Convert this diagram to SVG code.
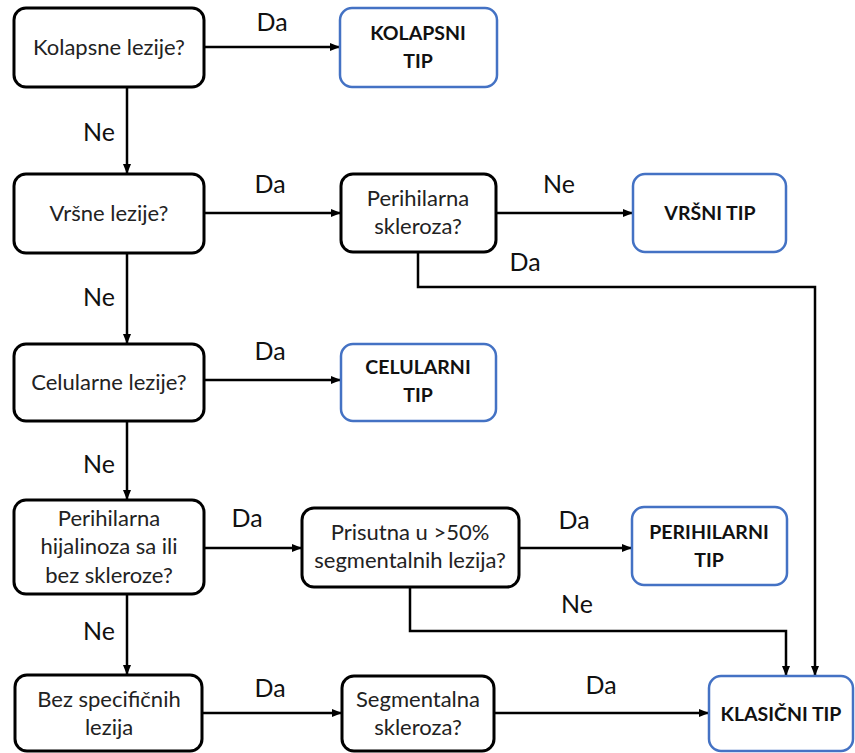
<svg xmlns="http://www.w3.org/2000/svg" width="855" height="753" viewBox="0 0 855 753">
<defs>
<marker id="ah" viewBox="0 0 10 10" refX="10" refY="5" markerWidth="10" markerHeight="10" markerUnits="userSpaceOnUse" orient="auto">
<path d="M0,1 L10,5 L0,9 Z" fill="#000"/>
</marker>
</defs>
<style>
.q{fill:#fff;stroke:#000;stroke-width:3}
.r{fill:#fff;stroke:#4472C4;stroke-width:2.5}
.t{font-family:Lato,"Liberation Sans",sans-serif;font-size:22px;fill:#222;text-anchor:middle}
.b{font-family:Lato,"Liberation Sans",sans-serif;font-size:19.5px;font-weight:bold;fill:#111;text-anchor:middle}
.l{font-family:Lato,"Liberation Sans",sans-serif;font-size:25px;fill:#111;text-anchor:middle}
.c{fill:none;stroke:#000;stroke-width:2.5}
</style>
<g id="connectors">
<path class="c" d="M204,47 H340" marker-end="url(#ah)"/>
<path class="c" d="M127,87 V174" marker-end="url(#ah)"/>
<path class="c" d="M204,213 H341" marker-end="url(#ah)"/>
<path class="c" d="M496,213 H633" marker-end="url(#ah)"/>
<path class="c" d="M418,252 V287 H815 V676" marker-end="url(#ah)"/>
<path class="c" d="M127,253 V344" marker-end="url(#ah)"/>
<path class="c" d="M204,380 H341" marker-end="url(#ah)"/>
<path class="c" d="M127,421 V500" marker-end="url(#ah)"/>
<path class="c" d="M204,548 H302" marker-end="url(#ah)"/>
<path class="c" d="M519,548 H632" marker-end="url(#ah)"/>
<path class="c" d="M410,587 V631 H786 V676" marker-end="url(#ah)"/>
<path class="c" d="M127,594 V675" marker-end="url(#ah)"/>
<path class="c" d="M202,713 H342" marker-end="url(#ah)"/>
<path class="c" d="M494,713 H709" marker-end="url(#ah)"/>
</g>
<g id="labels">
<text class="l" x="272" y="31">Da</text>
<text class="l" x="99" y="141">Ne</text>
<text class="l" x="270" y="193">Da</text>
<text class="l" x="559" y="193">Ne</text>
<text class="l" x="525" y="271">Da</text>
<text class="l" x="99" y="306">Ne</text>
<text class="l" x="270" y="360">Da</text>
<text class="l" x="99" y="473">Ne</text>
<text class="l" x="247" y="527">Da</text>
<text class="l" x="574" y="529">Da</text>
<text class="l" x="577" y="613">Ne</text>
<text class="l" x="99" y="640">Ne</text>
<text class="l" x="270" y="697">Da</text>
<text class="l" x="601" y="694">Da</text>
</g>
<g id="n1"><rect class="q" x="14" y="8" width="190" height="79" rx="12"/><text class="t" x="109" y="55">Kolapsne lezije?</text></g>
<g id="n2"><rect class="r" x="340" y="8" width="157" height="79" rx="12"/><text class="b" x="418" y="40">KOLAPSNI</text><text class="b" x="418" y="68">TIP</text></g>
<g id="n3"><rect class="q" x="14" y="174" width="190" height="79" rx="12"/><text class="t" x="109" y="221">Vršne lezije?</text></g>
<g id="n4"><rect class="q" x="341" y="174" width="155" height="78" rx="12"/><text class="t" x="418" y="206">Perihilarna</text><text class="t" x="418" y="234">skleroza?</text></g>
<g id="n5"><rect class="r" x="633" y="174" width="153" height="78" rx="12"/><text class="b" x="710" y="220">VRŠNI TIP</text></g>
<g id="n6"><rect class="q" x="14" y="344" width="190" height="77" rx="12"/><text class="t" x="109" y="390">Celularne lezije?</text></g>
<g id="n7"><rect class="r" x="341" y="344" width="155" height="77" rx="12"/><text class="b" x="418" y="374">CELULARNI</text><text class="b" x="418" y="402">TIP</text></g>
<g id="n8"><rect class="q" x="14" y="500" width="190" height="94" rx="12"/><text class="t" x="109" y="526">Perihilarna</text><text class="t" x="109" y="554">hijalinoza sa ili</text><text class="t" x="109" y="583">bez skleroze?</text></g>
<g id="n9"><rect class="q" x="302" y="508" width="217" height="79" rx="12"/><text class="t" x="410" y="540">Prisutna u &gt;50%</text><text class="t" x="410" y="568">segmentalnih lezija?</text></g>
<g id="n10"><rect class="r" x="632" y="507" width="155" height="78" rx="12"/><text class="b" x="709" y="539">PERIHILARNI</text><text class="b" x="709" y="567">TIP</text></g>
<g id="n11"><rect class="q" x="15" y="675" width="187" height="76" rx="12"/><text class="t" x="109" y="707">Bez specifičnih</text><text class="t" x="109" y="735">lezija</text></g>
<g id="n12"><rect class="q" x="342" y="676" width="152" height="75" rx="12"/><text class="t" x="418" y="707">Segmentalna</text><text class="t" x="418" y="735">skleroza?</text></g>
<g id="n13"><rect class="r" x="709" y="676" width="144" height="75" rx="12"/><text class="b" x="781" y="721">KLASIČNI TIP</text></g>
</svg>
